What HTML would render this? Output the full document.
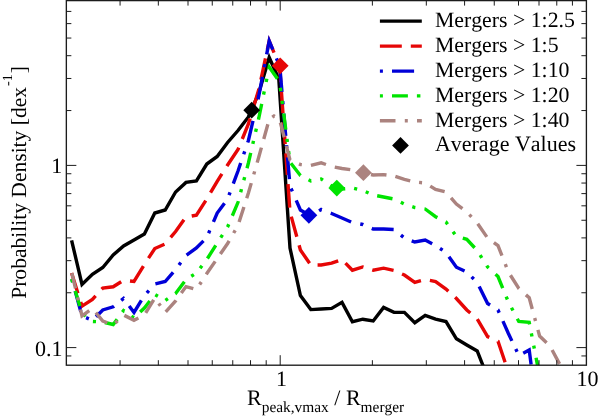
<!DOCTYPE html>
<html><head><meta charset="utf-8"><title>plot</title>
<style>html,body{margin:0;padding:0;background:#fff;overflow:hidden}svg{display:block}text{font-family:"Liberation Serif",serif;fill:#000;font-kerning:none;text-rendering:geometricPrecision}</style></head>
<body>
<svg width="600" height="418" viewBox="0 0 600 418">
<rect width="600" height="418" fill="#fff"/>
<defs><clipPath id="c"><rect x="66.35" y="0.6" width="520.05" height="364.59999999999997"/></clipPath></defs>
<g clip-path="url(#c)" fill="none" stroke-linejoin="miter" stroke-miterlimit="12" stroke-linecap="butt">
<path d="M71.6,240.3 L82.0,284.5 L92.4,274.4 L102.8,267.5 L113.2,255.0 L123.6,246.0 L134.0,240.0 L144.4,234.0 L154.8,213.0 L165.2,210.0 L175.6,192.0 L186.0,182.4 L196.4,180.9 L206.8,164.0 L217.2,156.5 L227.6,142.5 L238.0,130.5 L248.4,117.0 L258.8,93.0 L269.2,57.5 L278.8,79.0 L290.0,248.0 L300.4,295.5 L310.8,309.6 L321.2,309.0 L331.6,308.4 L342.0,302.4 L352.4,321.7 L362.8,319.2 L373.2,321.0 L383.6,307.4 L394.0,312.4 L404.4,312.4 L414.8,322.7 L425.2,315.4 L435.6,319.2 L446.0,321.6 L456.4,338.8 L466.8,345.0 L477.2,350.9 L487.6,377.3" stroke="#000000" stroke-width="3.4"/>
<path d="M71.6,273.0 L82.0,306.2 L92.4,299.5 L102.8,288.0 L113.2,286.8 L123.6,280.2 L134.0,281.4 L144.4,264.5 L154.8,248.5 L165.2,244.0 L175.6,231.5 L186.0,217.0 L196.4,215.1 L206.8,199.0 L217.2,181.3 L227.6,165.0 L238.0,149.5 L248.4,124.0 L258.8,89.5 L269.2,41.0 L279.6,66.0 L290.0,212.0 L300.4,250.0 L310.8,265.0 L321.2,265.0 L331.6,263.2 L342.0,259.5 L352.4,270.2 L362.8,267.0 L373.2,270.2 L383.6,268.2 L394.0,270.5 L404.4,275.0 L414.8,282.5 L425.2,279.5 L435.6,281.5 L446.0,289.0 L456.4,298.5 L466.8,310.0 L477.2,319.0 L487.6,336.6 L498.0,341.3 L508.4,372.0" stroke="#e60606" stroke-width="3.4" stroke-dasharray="21.1 9.3 21.6 9.0 21.6 9.3 22.0 9.4 22.1 9.3 22.1 9.3 22.0 9.3 21.9 9.3 22.0 9.3 22.0 9.3 21.9 9.2 21.6 9.0 21.4 9.1 21.6 9.2 21.9 9.3 21.7 9.2 21.7 9.3 23.6 9.1 20.9 8.8 21.0 8.9 21.2 9.0 21.5 9.2 21.8 9.2 21.8 9.2 21.8 9.2 21.9 9.3 22.1 9.4 22.2 9.3 5.9 50.0"/>
<path d="M71.6,278.0 L82.0,316.0 L92.4,320.3 L102.8,310.0 L113.2,306.8 L123.6,298.5 L134.0,312.4 L144.4,295.5 L154.8,284.0 L165.2,281.5 L175.6,269.5 L186.0,255.5 L196.4,248.0 L206.8,237.5 L217.2,213.0 L227.6,199.0 L238.0,171.0 L248.4,140.5 L258.8,96.0 L269.2,41.0 L279.8,66.5 L290.0,186.0 L300.4,210.0 L310.8,216.0 L321.2,209.5 L331.6,213.5 L342.0,218.0 L352.4,222.5 L362.8,224.5 L373.2,229.0 L383.6,229.0 L394.0,229.5 L404.4,238.0 L414.8,242.0 L425.2,240.0 L435.6,245.5 L446.0,252.5 L456.4,267.2 L466.8,272.0 L477.2,282.5 L487.6,303.5 L498.0,310.0 L508.4,333.5 L518.8,355.5 L529.2,350.0 L539.6,429.0" stroke="#0000d8" stroke-width="3.4" stroke-dasharray="0.0 1.2 3.1 9.3 21.4 8.8 3.0 8.9 21.5 9.2 3.1 9.3 22.1 9.4 3.1 9.4 22.2 9.4 3.1 9.4 22.2 9.3 3.1 9.3 21.9 9.2 3.1 9.2 21.9 9.3 3.1 9.3 22.3 9.5 3.2 9.5 22.8 9.8 3.3 9.8 23.0 9.5 3.1 9.4 21.8 9.3 3.1 9.4 22.2 9.3 3.1 9.2 21.9 9.6 3.2 9.7 22.8 9.5 3.2 9.5 22.2 9.4 3.1 9.3 22.0 9.3 3.1 9.2 21.8 9.2 3.1 9.2 21.9 9.3 3.1 9.3 21.9 9.2 3.1 9.2 21.7 9.1 3.0 9.1 21.4 9.3 3.1 9.3 22.0 9.3 3.1 9.3 5.1 50.0"/>
<path d="M71.6,279.0 L82.0,313.0 L92.4,321.5 L102.8,322.0 L113.2,324.5 L123.6,310.5 L134.0,318.0 L144.4,308.0 L154.8,294.5 L165.2,300.5 L175.6,293.5 L186.0,279.5 L196.4,273.0 L206.8,259.5 L217.2,243.0 L227.6,227.0 L238.0,202.3 L248.4,163.0 L258.8,118.0 L269.2,67.0 L279.6,82.0 L290.0,162.0 L300.4,175.5 L310.8,181.0 L321.2,179.0 L331.6,186.0 L342.0,189.0 L352.4,188.0 L362.8,190.5 L373.2,195.0 L383.6,197.0 L394.0,199.0 L404.4,204.0 L414.8,207.5 L425.2,209.0 L435.6,216.7 L446.0,222.0 L456.4,236.3 L466.8,239.3 L477.2,250.5 L487.6,267.0 L498.0,276.5 L508.4,302.0 L518.8,321.5 L529.2,322.3 L539.6,376.0" stroke="#00e400" stroke-width="3.4" stroke-dasharray="0.0 0.1 3.2 9.2 15.8 9.1 3.1 9.0 3.1 8.9 15.2 8.8 3.0 8.7 3.0 8.7 14.8 8.7 3.0 8.7 3.0 8.8 15.2 8.9 3.1 9.0 3.1 9.1 15.6 9.2 3.2 9.2 3.2 9.2 15.8 9.2 3.2 9.2 3.2 9.2 15.8 9.2 3.2 9.3 3.2 9.3 16.1 9.4 3.3 9.6 3.3 9.7 16.7 9.7 3.4 9.7 3.3 9.6 16.2 9.3 3.2 9.2 3.2 9.2 15.7 9.1 3.1 9.0 3.1 9.0 15.5 9.0 3.1 9.0 3.1 9.1 15.6 9.1 3.2 9.1 3.2 9.2 15.7 9.2 3.2 9.2 3.2 9.2 15.7 9.2 3.2 9.2 3.2 9.2 15.8 9.2 3.2 9.2 3.2 9.2 15.7 9.2 3.2 9.2 3.2 9.2 15.8 8.0"/>
<path d="M71.6,272.0 L82.0,316.0 L92.4,308.5 L102.8,321.0 L113.2,325.0 L123.6,315.0 L134.0,320.3 L144.4,315.0 L154.8,298.0 L165.2,312.4 L175.6,301.0 L186.0,286.6 L196.4,289.5 L206.8,273.5 L217.2,258.5 L227.6,243.5 L238.0,225.5 L248.4,193.0 L258.8,157.0 L269.2,119.3 L274.0,116.0 L279.6,119.5 L290.0,160.0 L300.4,164.5 L310.8,165.5 L321.2,162.8 L331.6,166.5 L342.0,168.5 L352.4,170.0 L362.8,172.7 L373.2,175.0 L383.6,174.6 L394.0,176.0 L404.4,179.3 L414.8,182.0 L425.2,183.0 L435.6,189.4 L446.0,192.0 L456.4,204.0 L466.8,212.0 L477.2,223.0 L487.6,238.0 L498.0,245.6 L508.4,272.0 L518.8,288.5 L529.2,297.8 L539.6,336.0 L550.0,346.0 L560.4,365.5" stroke="#ab837f" stroke-width="3.4" stroke-dasharray="0.0 1.1 15.8 9.2 3.1 9.2 15.8 9.2 15.8 9.2 3.1 9.2 15.8 9.2 15.3 8.8 3.0 8.9 15.4 9.0 15.6 9.1 3.1 9.1 15.7 9.1 15.7 9.1 3.1 9.2 15.8 9.2 15.8 9.1 3.1 9.1 15.6 9.0 15.3 8.8 3.0 8.8 15.2 8.9 15.4 9.0 3.0 9.1 15.7 9.2 15.7 9.1 3.1 9.1 15.6 9.0 15.5 9.0 3.0 9.1 15.6 9.1 15.8 9.2 3.1 9.3 15.9 9.2 15.8 9.2 3.1 9.2 15.9 9.3 16.0 9.3 3.1 9.3 16.0 9.2 15.8 6.5"/>
</g>
<path d="M243.29999999999998,110.2 L251.7,101.8 L260.09999999999997,110.2 L251.7,118.60000000000001 Z" fill="#000"/>
<path d="M271.8,65.8 L280.2,57.4 L288.59999999999997,65.8 L280.2,74.2 Z" fill="#e60606"/>
<path d="M300.5,215.3 L308.9,206.9 L317.29999999999995,215.3 L308.9,223.70000000000002 Z" fill="#0000d8"/>
<path d="M328.40000000000003,188.1 L336.8,179.7 L345.2,188.1 L336.8,196.5 Z" fill="#00e400"/>
<path d="M355.0,172.7 L363.4,164.29999999999998 L371.79999999999995,172.7 L363.4,181.1 Z" fill="#ab837f"/>
<rect x="66.35" y="0.6" width="520.05" height="364.59999999999997" fill="none" stroke="#1c1c1c" stroke-width="1.35"/>
<path d="M120.07,365.2 v-5 M120.07,0.6 v5 M158.33,365.2 v-5 M158.33,0.6 v5 M188.01,365.2 v-5 M188.01,0.6 v5 M212.26,365.2 v-5 M212.26,0.6 v5 M232.76,365.2 v-5 M232.76,0.6 v5 M250.52,365.2 v-5 M250.52,0.6 v5 M266.19,365.2 v-5 M266.19,0.6 v5 M280.20,365.2 v-10 M280.20,0.6 v10 M372.39,365.2 v-5 M372.39,0.6 v5 M426.32,365.2 v-5 M426.32,0.6 v5 M464.58,365.2 v-5 M464.58,0.6 v5 M494.26,365.2 v-5 M494.26,0.6 v5 M518.50,365.2 v-5 M518.50,0.6 v5 M539.01,365.2 v-5 M539.01,0.6 v5 M556.77,365.2 v-5 M556.77,0.6 v5 M572.43,365.2 v-5 M572.43,0.6 v5 M66.35,355.94 h5 M586.4,355.94 h-5 M66.35,347.60 h10 M586.4,347.60 h-10 M66.35,292.75 h5 M586.4,292.75 h-5 M66.35,260.67 h5 M586.4,260.67 h-5 M66.35,237.90 h5 M586.4,237.90 h-5 M66.35,220.25 h5 M586.4,220.25 h-5 M66.35,205.82 h5 M586.4,205.82 h-5 M66.35,193.62 h5 M586.4,193.62 h-5 M66.35,183.06 h5 M586.4,183.06 h-5 M66.35,173.74 h5 M586.4,173.74 h-5 M66.35,165.40 h10 M586.4,165.40 h-10 M66.35,110.55 h5 M586.4,110.55 h-5 M66.35,78.47 h5 M586.4,78.47 h-5 M66.35,55.70 h5 M586.4,55.70 h-5 M66.35,38.05 h5 M586.4,38.05 h-5 M66.35,23.62 h5 M586.4,23.62 h-5 M66.35,11.42 h5 M586.4,11.42 h-5" stroke="#1c1c1c" stroke-width="1.0" fill="none"/>
<text x="281.6" y="385.6" font-size="22" text-anchor="middle">1</text>
<text x="587.5" y="385.6" font-size="22" text-anchor="middle">10</text>
<text x="62.2" y="173.2" font-size="22" text-anchor="end">1</text>
<text x="62.4" y="355.5" font-size="22" text-anchor="end">0.1</text>
<text x="247" y="405.2" font-size="22">R<tspan font-size="15.4" dy="6.5">peak,vmax</tspan><tspan dy="-6.5"> / R</tspan><tspan font-size="15.4" dy="6.5">merger</tspan></text>
<text transform="translate(25.8,298.8) rotate(-90)" font-size="21.55">Probability Density [dex<tspan font-size="14" dy="-13.4" dx="1">-1</tspan><tspan dy="13.4" dx="1">]</tspan></text>
<path d="M379.9,21.1 H421.8" stroke="#000000" stroke-width="3.4" fill="none"/>
<text x="434.9" y="26.8" font-size="21.8">Mergers &gt; 1:2.5</text>
<path d="M379.9,46.1 H421.8" stroke="#e60606" stroke-width="3.4" fill="none" stroke-dasharray="21.9 9.0"/>
<text x="434.9" y="52.3" font-size="21.8">Mergers &gt; 1:5</text>
<path d="M379.9,71.1 H421.8" stroke="#0000d8" stroke-width="3.4" fill="none" stroke-dasharray="3.0 9.1 22.1 50"/>
<text x="434.9" y="77.0" font-size="21.8">Mergers &gt; 1:10</text>
<path d="M379.9,95.9 H421.8" stroke="#00e400" stroke-width="3.4" fill="none" stroke-dasharray="3.0 9.1 15.9 9.0 3.5 50"/>
<text x="434.9" y="101.8" font-size="21.8">Mergers &gt; 1:20</text>
<path d="M379.9,120.8 H421.8" stroke="#ab837f" stroke-width="3.4" fill="none" stroke-dasharray="15.6 9.3 3.0 9.2 10 50"/>
<text x="434.9" y="126.9" font-size="21.8">Mergers &gt; 1:40</text>
<path d="M392.1,145.4 L400.5,137.0 L408.9,145.4 L400.5,153.8 Z" fill="#000"/>
<text x="434.9" y="151.2" font-size="22">Average Values</text>
</svg></body></html>
